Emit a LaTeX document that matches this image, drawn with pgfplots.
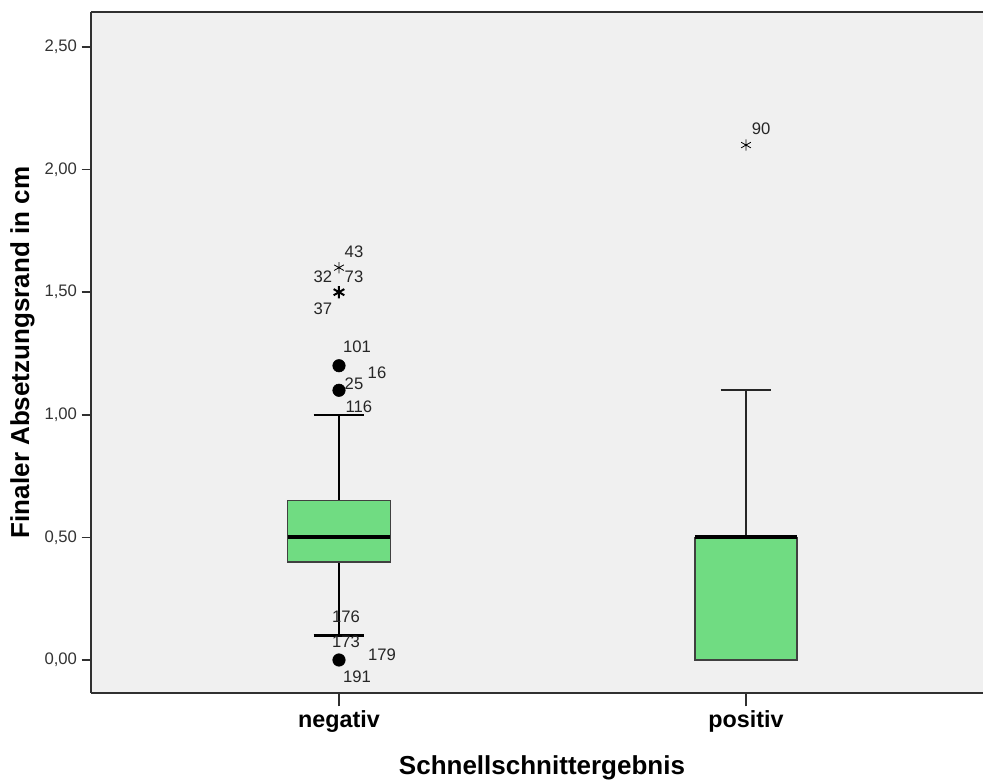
\documentclass[border=0pt]{standalone}
\usepackage{pgfplots}
\pgfplotsset{compat=1.18}
\usepgfplotslibrary{statistics}
\usepackage{fontspec}
\setmainfont{Liberation Sans}
\definecolor{bggray}{HTML}{F0F0F0}
\definecolor{boxgreen}{HTML}{70DC82}
\definecolor{boxedge}{HTML}{404040}
\definecolor{axisgray}{HTML}{303030}
\begin{document}
\begin{tikzpicture}
\begin{axis}[
  at={(0,0)}, anchor=south west,
  width=669pt, height=510.75pt, scale only axis,
  xmin=-0.6093, xmax=1.5823,
  ymin=-0.1346, ymax=2.6427,
  boxplot/draw direction=y,
  axis x line*=box, axis y line*=left,
  xtick pos=bottom, ytick pos=left,
  tick align=outside,
  major tick length=7pt,
  xtick style={/pgfplots/major tick length=10pt},
  axis line style={axisgray, line width=1.5pt},
  every tick/.style={axisgray, line width=1.2pt},
  axis background/.style={fill=bggray},
  xtick={0,1}, xticklabels={negativ,positiv},
  xticklabel style={font=\fontsize{17.5}{20}\selectfont\bfseries, yshift=-3pt},
  ytick={0,0.5,1,1.5,2,2.5},
  yticklabel style={font=\fontsize{12.5}{14}\selectfont, text=black!80, /pgf/number format/.cd, fixed, fixed zerofill, precision=2, use comma},
  /pgf/number format/assume math mode=true,
  xlabel={Schnellschnittergebnis},
  ylabel={Finaler Absetzungsrand in cm},
  every axis x label/.style={at={(axis description cs:0.5056,0)}, yshift=-56.5pt, anchor=center, font=\fontsize{19.5}{22}\selectfont\bfseries},
  every axis y label/.style={at={(axis description cs:0,0.5)}, xshift=-51.4pt, anchor=center, rotate=90, font=\fontsize{19.5}{22}\selectfont\bfseries},
  clip=false,
]
% negativ
\addplot+[solid, draw=black, mark=none,
  boxplot prepared={draw position=0,
    lower whisker=0.1, lower quartile=0.4, median=0.5,
    upper quartile=0.65, upper whisker=1.0,
    box extend=0.253, whisker extend=0.125,
    every box/.style={draw=boxedge, line width=0.9pt, fill=boxgreen},
    every whisker/.style={black, line width=1.9pt},
    every median/.style={black, line width=3pt}}]
  coordinates {};
% positiv
\addplot+[solid, draw=black, mark=none,
  boxplot prepared={draw position=1,
    lower whisker=0.0, lower quartile=0.0, median=0.5,
    upper quartile=0.5, upper whisker=1.1,
    box extend=0.251, whisker extend=0.125,
    every box/.style={draw=boxedge, line width=0.9pt, fill=boxgreen},
    every whisker/.style={black!85, line width=1.3pt},
    every median/.style={black, line width=3pt}}]
  coordinates {};
% outliers (circles)
\addplot[only marks, mark=*, mark size=4.7pt, black] coordinates {(0,1.2)(0,1.1)(0,0)};
% extremes (stars)
\addplot[only marks, mark=asterisk, mark size=4.2pt, black, line width=0.6pt] coordinates {(0,1.6)(1,2.1)};
\addplot[only marks, mark=asterisk, mark size=4.6pt, black, line width=1.5pt] coordinates {(0,1.5)};
% case labels
\begin{scope}[every node/.style={font=\fontsize{12.5}{14}\selectfont, text=black!85, inner sep=0pt}]
\node at (axis cs:0.0369,1.664) {43};
\node at (axis cs:-0.0393,1.562) {32};
\node at (axis cs:0.0369,1.562) {73};
\node at (axis cs:-0.0393,1.431) {37};
\node at (axis cs:0.0442,1.277) {101};
\node at (axis cs:0.0934,1.170) {16};
\node at (axis cs:0.0369,1.126) {25};
\node at (axis cs:0.0491,1.032) {116};
\node at (axis cs:0.0172,0.175) {176};
\node at (axis cs:0.0172,0.0734) {173};
\node at (axis cs:0.1057,0.0204) {179};
\node at (axis cs:0.0442,-0.0693) {191};
\node at (axis cs:1.0369,2.166) {90};
\end{scope}
\end{axis}
\pgfresetboundingbox
\useasboundingbox (-68.25pt,-65.25pt) rectangle (669pt,519.75pt);
\end{tikzpicture}
\end{document}
